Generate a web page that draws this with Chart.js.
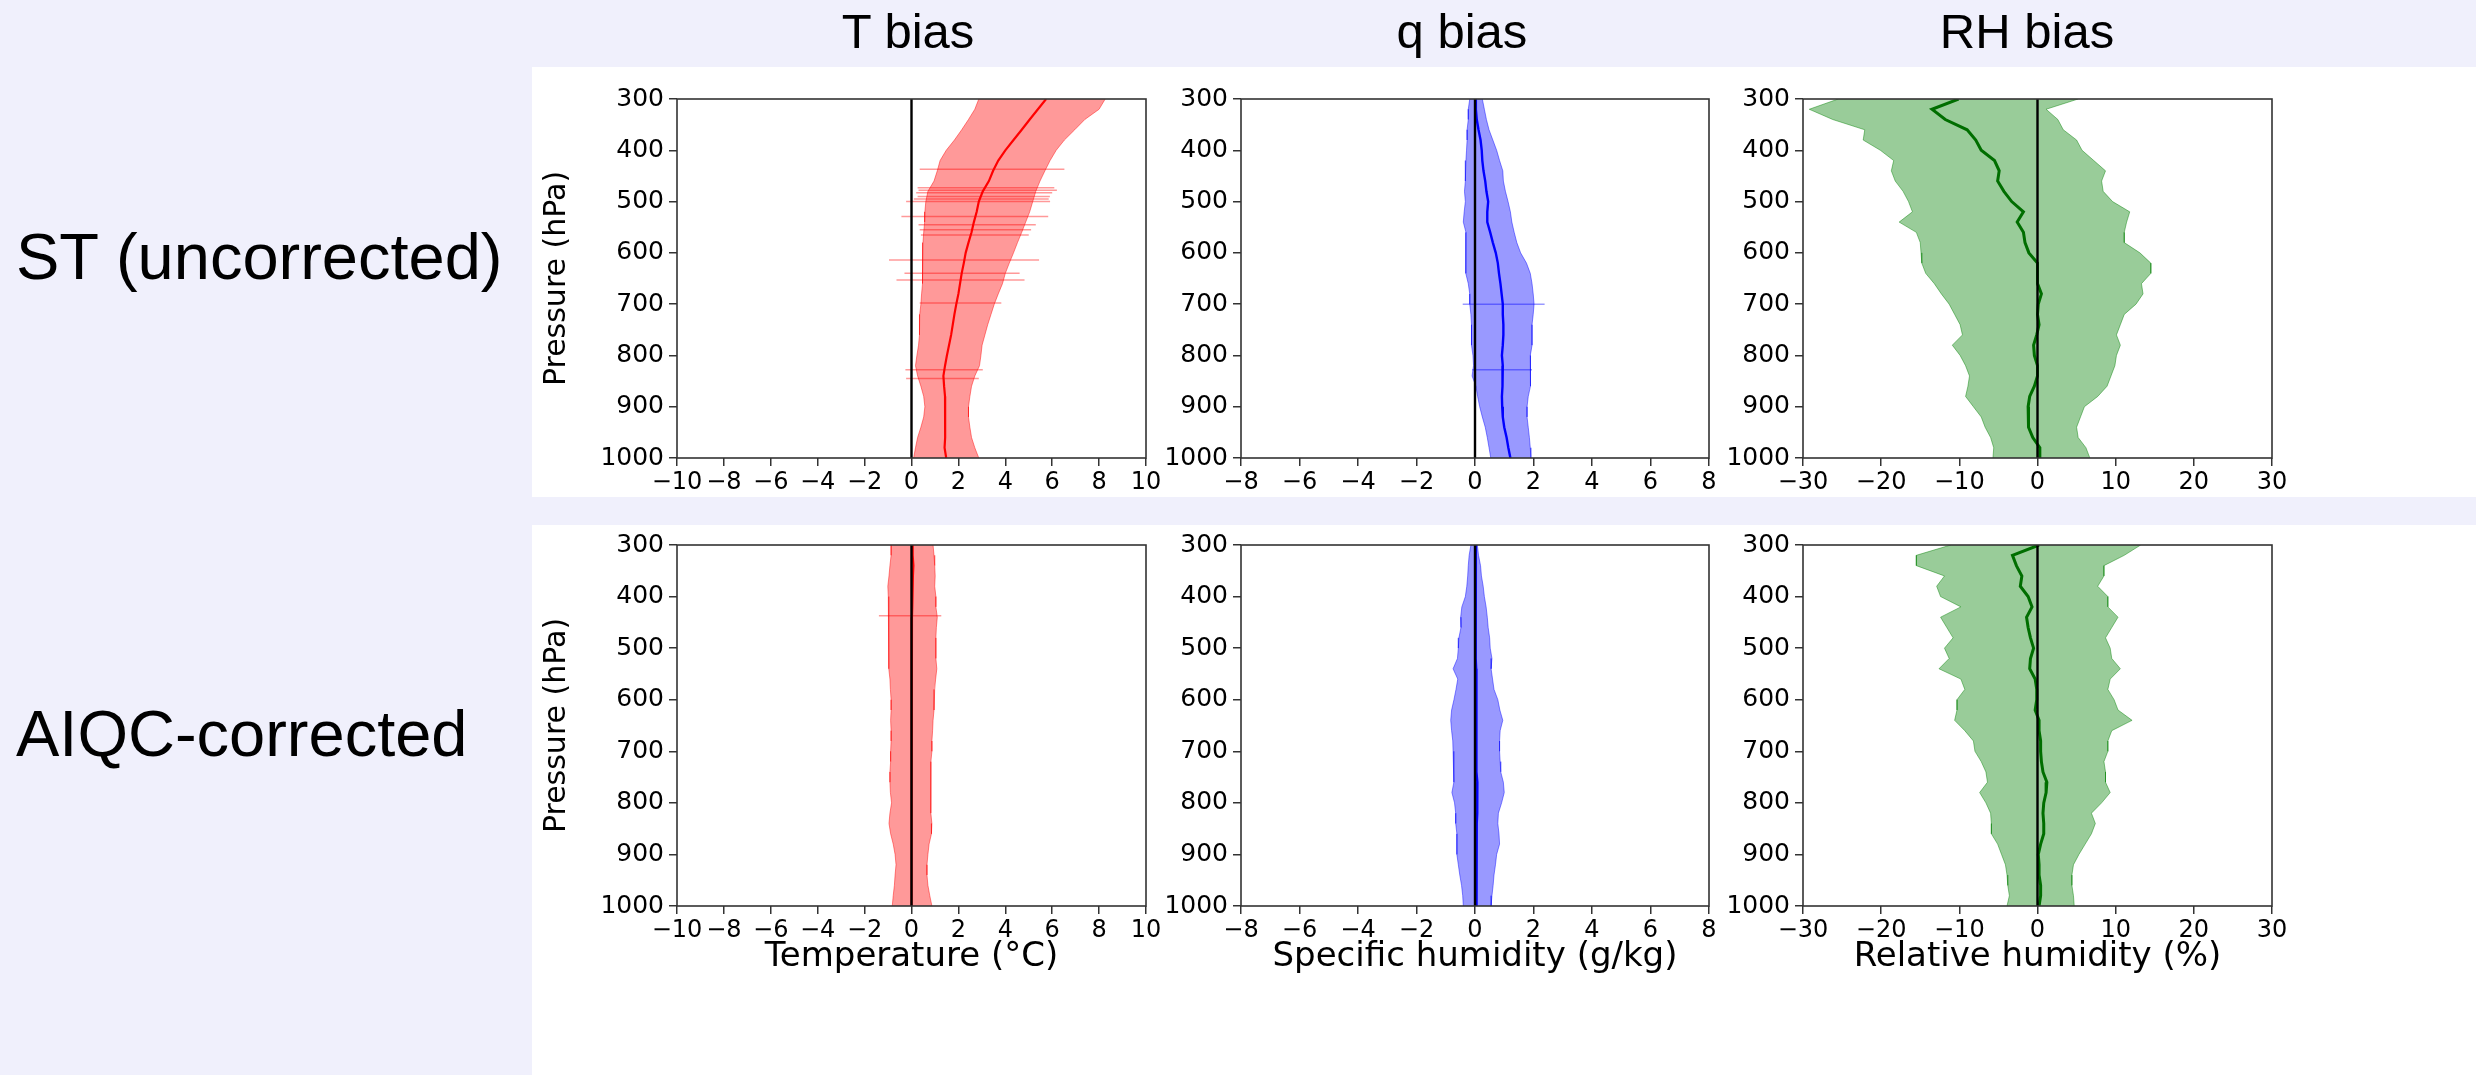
<!DOCTYPE html>
<html>
<head>
<meta charset="utf-8">
<title>T, q and RH bias profiles</title>
<script src="https://cdn.jsdelivr.net/npm/chart.js@4.4.1/dist/chart.umd.min.js"></script>
<style>
    html, body { margin: 0; padding: 0; }
    body {
        width: 2476px;
        height: 1075px;
        position: relative;
        overflow: hidden;
        background: #f0f0fc;
        font-family: 'Liberation Sans', Arial, sans-serif;
    }
    .band { position: absolute; background: #ffffff; }
    .label { position: absolute; color: #000; white-space: nowrap; line-height: 1; }
    .col-title { font-size: 49px; transform: translateX(-50%); }
    .row-title { font-size: 65px; }
    .panel { position: absolute; }
</style>
</head>
<body>

<div class="band" style="left:532px;top:67px;width:1944px;height:430px"></div>
<div class="band" style="left:532px;top:525px;width:1944px;height:550px"></div>

<div class="label col-title" style="left:908px;top:7px">T bias</div>
<div class="label col-title" style="left:1462px;top:7px">q bias</div>
<div class="label col-title" style="left:2027px;top:7px">RH bias</div>

<div class="label row-title" style="left:16px;top:224px">ST (uncorrected)</div>
<div class="label row-title" style="left:16px;top:701px">AIQC-corrected</div>

<script>
// Pressure levels (hPa) shared by every profile
const pressure = [300, 320, 340, 360, 380, 400, 420, 440, 460, 480, 500, 520, 540, 560, 580, 600, 620, 640,
    660, 680, 700, 720, 740, 760, 780, 800, 820, 840, 860, 880, 900, 920, 940, 960, 980, 1000];

// Tick labels
const pressureTicks = [300, 400, 500, 600, 700, 800, 900, 1000];
const tempTicks = [-10, -8, -6, -4, -2, 0, 2, 4, 6, 8, 10];
const humTicks = [-8, -6, -4, -2, 0, 2, 4, 6, 8];
const rhTicks = [-30, -20, -10, 0, 10, 20, 30];

// ST (uncorrected): temperature bias (°C)
const stTempMean = [5.74, 5.39, 5.04, 4.70, 4.35, 4.00, 3.70, 3.48, 3.30, 3.04, 2.87, 2.78, 2.66, 2.56, 2.43, 2.31, 2.23, 2.14,
    2.07, 2.00, 1.91, 1.83, 1.76, 1.69, 1.60, 1.51, 1.43, 1.36, 1.39, 1.43, 1.43, 1.44, 1.44, 1.43, 1.41, 1.48];
const stTempLow = [2.87, 2.70, 2.43, 2.14, 1.83, 1.48, 1.22, 1.10, 0.96, 0.70, 0.61, 0.57, 0.56, 0.52, 0.49, 0.47, 0.47, 0.47,
    0.47, 0.43, 0.40, 0.35, 0.35, 0.33, 0.30, 0.23, 0.17, 0.26, 0.40, 0.52, 0.57, 0.52, 0.40, 0.26, 0.17, 0.09];
const stTempHigh = [8.26, 8.00, 7.39, 6.96, 6.52, 6.17, 5.91, 5.69, 5.48, 5.30, 5.17, 5.04, 4.87, 4.70, 4.52, 4.35, 4.17, 4.00,
    3.88, 3.70, 3.53, 3.39, 3.25, 3.13, 3.01, 2.96, 2.90, 2.70, 2.56, 2.49, 2.43, 2.43, 2.49, 2.56, 2.70, 2.87];
// single levels where the spread sticks out of the band
const stTempSpikeP = [437, 473, 478, 483, 490, 495, 500, 529, 545, 555, 565, 614, 640, 653, 698, 828, 845];
const stTempSpikeLow = [0.35, 0.26, 0.30, 0.20, 0.26, 0.10, -0.23, -0.43, 0.30, 0.35, 0.40, -0.96, -0.30, -0.64, 0.35, -0.26, -0.23];
const stTempSpikeHigh = [6.52, 6.09, 6.20, 6.00, 5.90, 5.85, 5.91, 5.83, 5.30, 5.10, 5.00, 5.44, 4.61, 4.82, 3.83, 3.04, 2.87];

// ST (uncorrected): specific humidity bias (g/kg)
const stHumMean = [0.02, 0.03, 0.06, 0.12, 0.19, 0.23, 0.25, 0.29, 0.35, 0.39, 0.45, 0.42, 0.42, 0.52, 0.61, 0.71, 0.78, 0.82,
    0.87, 0.91, 0.95, 0.95, 0.97, 0.97, 0.95, 0.92, 0.95, 0.95, 0.93, 0.92, 0.93, 0.95, 1.00, 1.08, 1.14, 1.21];
const stHumLow = [-0.18, -0.23, -0.23, -0.27, -0.27, -0.29, -0.31, -0.33, -0.33, -0.36, -0.33, -0.37, -0.40, -0.31, -0.31, -0.31, -0.33, -0.31,
    -0.23, -0.18, -0.18, -0.14, -0.12, -0.12, -0.12, -0.07, -0.05, -0.10, 0.03, 0.09, 0.16, 0.25, 0.35, 0.42, 0.48, 0.54];
const stHumHigh = [0.25, 0.32, 0.39, 0.48, 0.61, 0.74, 0.84, 0.95, 0.97, 1.04, 1.13, 1.21, 1.26, 1.34, 1.43, 1.56, 1.76, 1.89,
    1.95, 1.99, 2.02, 1.99, 1.95, 1.95, 1.95, 1.89, 1.89, 1.91, 1.89, 1.82, 1.78, 1.78, 1.82, 1.86, 1.89, 1.91];
const stHumSpikeP = [700, 828];
const stHumSpikeLow = [-0.42, -0.10];
const stHumSpikeHigh = [2.38, 1.95];

// ST (uncorrected): relative humidity bias (%)
const stRhMean = [-10.1, -13.5, -11.8, -9.0, -7.9, -7.2, -5.5, -4.9, -5.1, -4.3, -3.3, -1.8, -2.6, -1.8, -1.6, -1.1, 0.0, 0.0,
    0.0, 0.5, 0.1, 0.0, 0.2, -0.1, -0.5, -0.4, 0.0, 0.0, -0.4, -1.0, -1.2, -1.2, -1.1, -0.6, 0.3, 0.3];
const stRhLow = [-25.5, -29.2, -26.2, -22.1, -22.3, -20.1, -18.4, -18.7, -18.2, -17.2, -16.5, -16.0, -17.7, -15.5, -15.0, -14.9, -14.8, -14.3,
    -13.2, -12.3, -11.3, -10.6, -9.9, -9.6, -10.9, -9.9, -9.2, -8.7, -8.9, -9.2, -8.2, -7.2, -6.7, -6.0, -5.6, -5.7];
const stRhHigh = [5.2, 1.1, 2.6, 3.3, 5.0, 5.7, 7.2, 8.7, 8.2, 8.4, 9.6, 11.8, 11.4, 11.1, 11.1, 13.1, 14.5, 14.5,
    13.3, 13.5, 12.6, 11.1, 10.6, 10.1, 10.6, 10.1, 9.9, 9.4, 8.9, 7.7, 6.0, 5.5, 5.0, 5.2, 6.2, 6.7];

// AIQC-corrected: temperature bias (°C)
const aiTempMean = [0.05, 0.05, 0.08, 0.06, 0.04, 0.03, 0.03, 0.02, 0.02, 0.01, 0.00, 0.01, 0.02, 0.02, 0.02, 0.02, 0.01, 0.01,
    0.00, 0.00, 0.00, -0.01, -0.01, -0.02, -0.02, -0.02, -0.01, -0.01, 0.00, 0.00, 0.00, 0.01, 0.01, 0.02, 0.02, 0.02];
const aiTempLow = [-0.87, -0.87, -0.92, -0.96, -1.01, -0.99, -0.96, -0.96, -0.99, -0.96, -0.96, -0.99, -0.96, -0.92, -0.90, -0.87, -0.87, -0.89,
    -0.87, -0.87, -0.89, -0.89, -0.92, -0.92, -0.90, -0.85, -0.92, -0.96, -0.89, -0.78, -0.70, -0.66, -0.70, -0.73, -0.78, -0.82];
const aiTempHigh = [0.92, 0.96, 0.99, 1.01, 0.99, 1.04, 1.04, 1.10, 1.06, 1.04, 1.04, 1.04, 1.08, 1.03, 0.99, 0.96, 0.96, 0.92,
    0.90, 0.87, 0.87, 0.83, 0.83, 0.82, 0.82, 0.82, 0.83, 0.87, 0.85, 0.75, 0.70, 0.66, 0.66, 0.70, 0.78, 0.87];
const aiTempSpikeP = [437];
const aiTempSpikeLow = [-1.39];
const aiTempSpikeHigh = [1.27];

// AIQC-corrected: specific humidity bias (g/kg)
const aiHumMean = [0.03, 0.03, 0.02, 0.02, 0.02, 0.02, 0.02, 0.02, 0.03, 0.03, 0.03, 0.03, 0.04, 0.04, 0.04, 0.04, 0.05, 0.05,
    0.05, 0.05, 0.05, 0.06, 0.06, 0.08, 0.08, 0.08, 0.07, 0.06, 0.06, 0.06, 0.05, 0.05, 0.05, 0.05, 0.05, 0.05];
const aiHumLow = [-0.14, -0.20, -0.23, -0.25, -0.28, -0.33, -0.45, -0.49, -0.48, -0.55, -0.57, -0.60, -0.75, -0.59, -0.65, -0.72, -0.80, -0.83,
    -0.80, -0.76, -0.75, -0.73, -0.72, -0.72, -0.79, -0.70, -0.66, -0.66, -0.62, -0.62, -0.62, -0.57, -0.52, -0.46, -0.42, -0.40];
const aiHumHigh = [0.08, 0.12, 0.19, 0.22, 0.28, 0.32, 0.38, 0.42, 0.45, 0.50, 0.52, 0.58, 0.55, 0.60, 0.65, 0.78, 0.85, 0.95,
    0.86, 0.84, 0.84, 0.86, 0.88, 0.97, 1.00, 0.91, 0.80, 0.78, 0.82, 0.84, 0.74, 0.70, 0.65, 0.62, 0.58, 0.55];

// AIQC-corrected: relative humidity bias (%)
const aiRhMean = [0.2, -3.2, -2.7, -2.0, -2.2, -1.2, -0.7, -1.4, -1.2, -0.9, -0.5, -0.9, -1.0, -0.3, -0.1, -0.1, -0.3, 0.2,
    0.2, 0.4, 0.4, 0.5, 0.7, 1.2, 1.1, 0.8, 0.7, 0.8, 0.8, 0.4, 0.1, 0.2, 0.2, 0.4, 0.4, 0.2];
const aiRhLow = [-11.1, -15.5, -15.5, -11.9, -12.9, -12.4, -9.8, -12.4, -11.6, -10.8, -11.9, -11.3, -12.6, -9.8, -9.3, -10.3, -10.3, -10.6,
    -9.3, -8.2, -8.0, -7.2, -6.6, -6.4, -7.4, -6.6, -6.0, -5.9, -5.9, -5.1, -4.6, -4.1, -3.9, -3.8, -3.6, -3.9];
const aiRhHigh = [13.2, 11.1, 8.5, 8.5, 7.7, 9.0, 9.0, 10.3, 9.5, 8.7, 9.3, 9.5, 10.6, 9.3, 9.0, 9.8, 10.3, 12.1,
    9.5, 9.0, 9.0, 8.5, 8.7, 8.7, 9.3, 8.2, 6.9, 7.4, 6.9, 6.1, 5.3, 4.6, 4.4, 4.4, 4.6, 4.7];

const COLORS = {
    red: { line: '#ff0000', fill: 'rgba(255, 0, 0, 0.4)', edge: 'rgba(255, 0, 0, 0.45)', width: 2.2 },
    blue: { line: '#0000ff', fill: 'rgba(0, 0, 255, 0.4)', edge: 'rgba(0, 0, 255, 0.45)', width: 2.4 },
    green: { line: '#006e00', fill: 'rgba(0, 128, 0, 0.4)', edge: 'rgba(0, 128, 0, 0.45)', width: 3 }
};

const Y_AXIS_W = 138;   // room for pressure ticks + title
const PAD_TOP = 20;
const PAD_RIGHT = 25;

// one entry per subplot; left/top/width/height is the plot area on the page
const panels = [
    { left: 677, top: 99, width: 469, height: 359, ticks: tempTicks, color: 'red', yTitle: true, xTitle: null,
      mean: stTempMean, low: stTempLow, high: stTempHigh, spikeP: stTempSpikeP, spikeLow: stTempSpikeLow, spikeHigh: stTempSpikeHigh },
    { left: 1241, top: 99, width: 468, height: 359, ticks: humTicks, color: 'blue', yTitle: false, xTitle: null,
      mean: stHumMean, low: stHumLow, high: stHumHigh, spikeP: stHumSpikeP, spikeLow: stHumSpikeLow, spikeHigh: stHumSpikeHigh },
    { left: 1803, top: 99, width: 469, height: 359, ticks: rhTicks, color: 'green', yTitle: false, xTitle: null,
      mean: stRhMean, low: stRhLow, high: stRhHigh },
    { left: 677, top: 545, width: 469, height: 361, ticks: tempTicks, color: 'red', yTitle: true, xTitle: 'Temperature (°C)',
      mean: aiTempMean, low: aiTempLow, high: aiTempHigh, spikeP: aiTempSpikeP, spikeLow: aiTempSpikeLow, spikeHigh: aiTempSpikeHigh },
    { left: 1241, top: 545, width: 468, height: 361, ticks: humTicks, color: 'blue', yTitle: false, xTitle: 'Specific humidity (g/kg)',
      mean: aiHumMean, low: aiHumLow, high: aiHumHigh },
    { left: 1803, top: 545, width: 469, height: 361, ticks: rhTicks, color: 'green', yTitle: false, xTitle: 'Relative humidity (%)',
      mean: aiRhMean, low: aiRhLow, high: aiRhHigh }
];

/**
 * Draws the four spines around the plot area, matplotlib style
 */
const framePlugin = {
    id: 'frame',
    afterDraw(chart) {
        const { ctx, chartArea: a } = chart;
        ctx.save();
        ctx.strokeStyle = '#333';
        ctx.lineWidth = 1.6;
        ctx.strokeRect(a.left, a.top, a.right - a.left, a.bottom - a.top);
        ctx.restore();
    }
};

const minus = v => (v < 0 ? '\u2212' + Math.abs(v) : String(v));
const profile = values => values.map((v, i) => ({ x: v, y: pressure[i] }));

/**
 * Build one profile subplot
 */
function renderPanel(p) {
    const xAxisH = p.xTitle ? 72 : 45;
    const box = document.createElement('div');
    box.className = 'panel';
    box.style.left = (p.left - Y_AXIS_W) + 'px';
    box.style.top = (p.top - PAD_TOP) + 'px';
    box.style.width = (p.width + Y_AXIS_W + PAD_RIGHT) + 'px';
    box.style.height = (p.height + PAD_TOP + xAxisH) + 'px';
    const canvas = document.createElement('canvas');
    box.appendChild(canvas);
    document.body.appendChild(box);

    const c = COLORS[p.color];
    const lo = p.ticks[0];
    const hi = p.ticks[p.ticks.length - 1];

    // horizontal whiskers, broken apart with null points
    const spikes = [];
    (p.spikeP || []).forEach((lev, i) => {
        spikes.push({ x: p.spikeLow[i], y: lev }, { x: p.spikeHigh[i], y: lev }, { x: null, y: null });
    });

    // datasets are painted last-to-first, so the zero line ends up on top
    const datasets = [
        { data: [{ x: 0, y: pressureTicks[0] }, { x: 0, y: pressureTicks[pressureTicks.length - 1] }],
          borderColor: '#000', borderWidth: 2.4, pointRadius: 0, fill: false },
        { data: profile(p.mean), borderColor: c.line, borderWidth: c.width, pointRadius: 0, fill: false },
        { data: profile(p.low), borderColor: c.edge, borderWidth: 1, pointRadius: 0, fill: '+1', backgroundColor: c.fill },
        { data: profile(p.high), borderColor: c.edge, borderWidth: 1, pointRadius: 0, fill: false },
        { data: spikes, borderColor: c.fill, borderWidth: 1.5, pointRadius: 0, fill: false, spanGaps: false }
    ];

    new Chart(canvas, {
        type: 'line',
        data: { datasets },
        options: {
            indexAxis: 'y',
            responsive: true,
            maintainAspectRatio: false,
            animation: false,
            events: [],
            layout: { padding: { top: PAD_TOP, right: PAD_RIGHT, left: 0, bottom: 0 } },
            plugins: {
                legend: { display: false },
                tooltip: { enabled: false }
            },
            scales: {
                x: {
                    type: 'linear',
                    position: 'bottom',
                    min: lo,
                    max: hi,
                    afterBuildTicks: s => { s.ticks = p.ticks.map(v => ({ value: v })); },
                    afterFit: s => { s.height = xAxisH; },
                    border: { display: false },
                    grid: { drawOnChartArea: false, drawTicks: true, tickLength: 8, color: '#333', lineWidth: 1.5 },
                    ticks: {
                        autoSkip: false, maxRotation: 0, padding: 2, color: '#000',
                        font: { family: 'DejaVu Sans', size: 24 },
                        callback: v => minus(v)
                    },
                    title: {
                        display: !!p.xTitle, text: p.xTitle || '', color: '#000',
                        font: { family: 'DejaVu Sans', size: 34 },
                        padding: { top: 0, bottom: 0 }
                    }
                },
                y: {
                    type: 'linear',
                    position: 'left',
                    reverse: true,
                    min: pressureTicks[0],
                    max: pressureTicks[pressureTicks.length - 1],
                    afterBuildTicks: s => { s.ticks = pressureTicks.map(v => ({ value: v })); },
                    afterFit: s => { s.width = Y_AXIS_W; },
                    border: { display: false },
                    grid: { drawOnChartArea: false, drawTicks: true, tickLength: 8, color: '#333', lineWidth: 1.5 },
                    ticks: {
                        autoSkip: false, padding: 5, color: '#000',
                        font: { family: 'DejaVu Sans', size: 25 },
                        callback: v => String(v)
                    },
                    title: {
                        display: p.yTitle, text: 'Pressure (hPa)', color: '#000',
                        font: { family: 'DejaVu Sans', size: 30 },
                        padding: { top: 0, bottom: 0 }
                    }
                }
            }
        },
        plugins: [framePlugin]
    });
}

panels.forEach(renderPanel);
</script>
</body>
</html>
